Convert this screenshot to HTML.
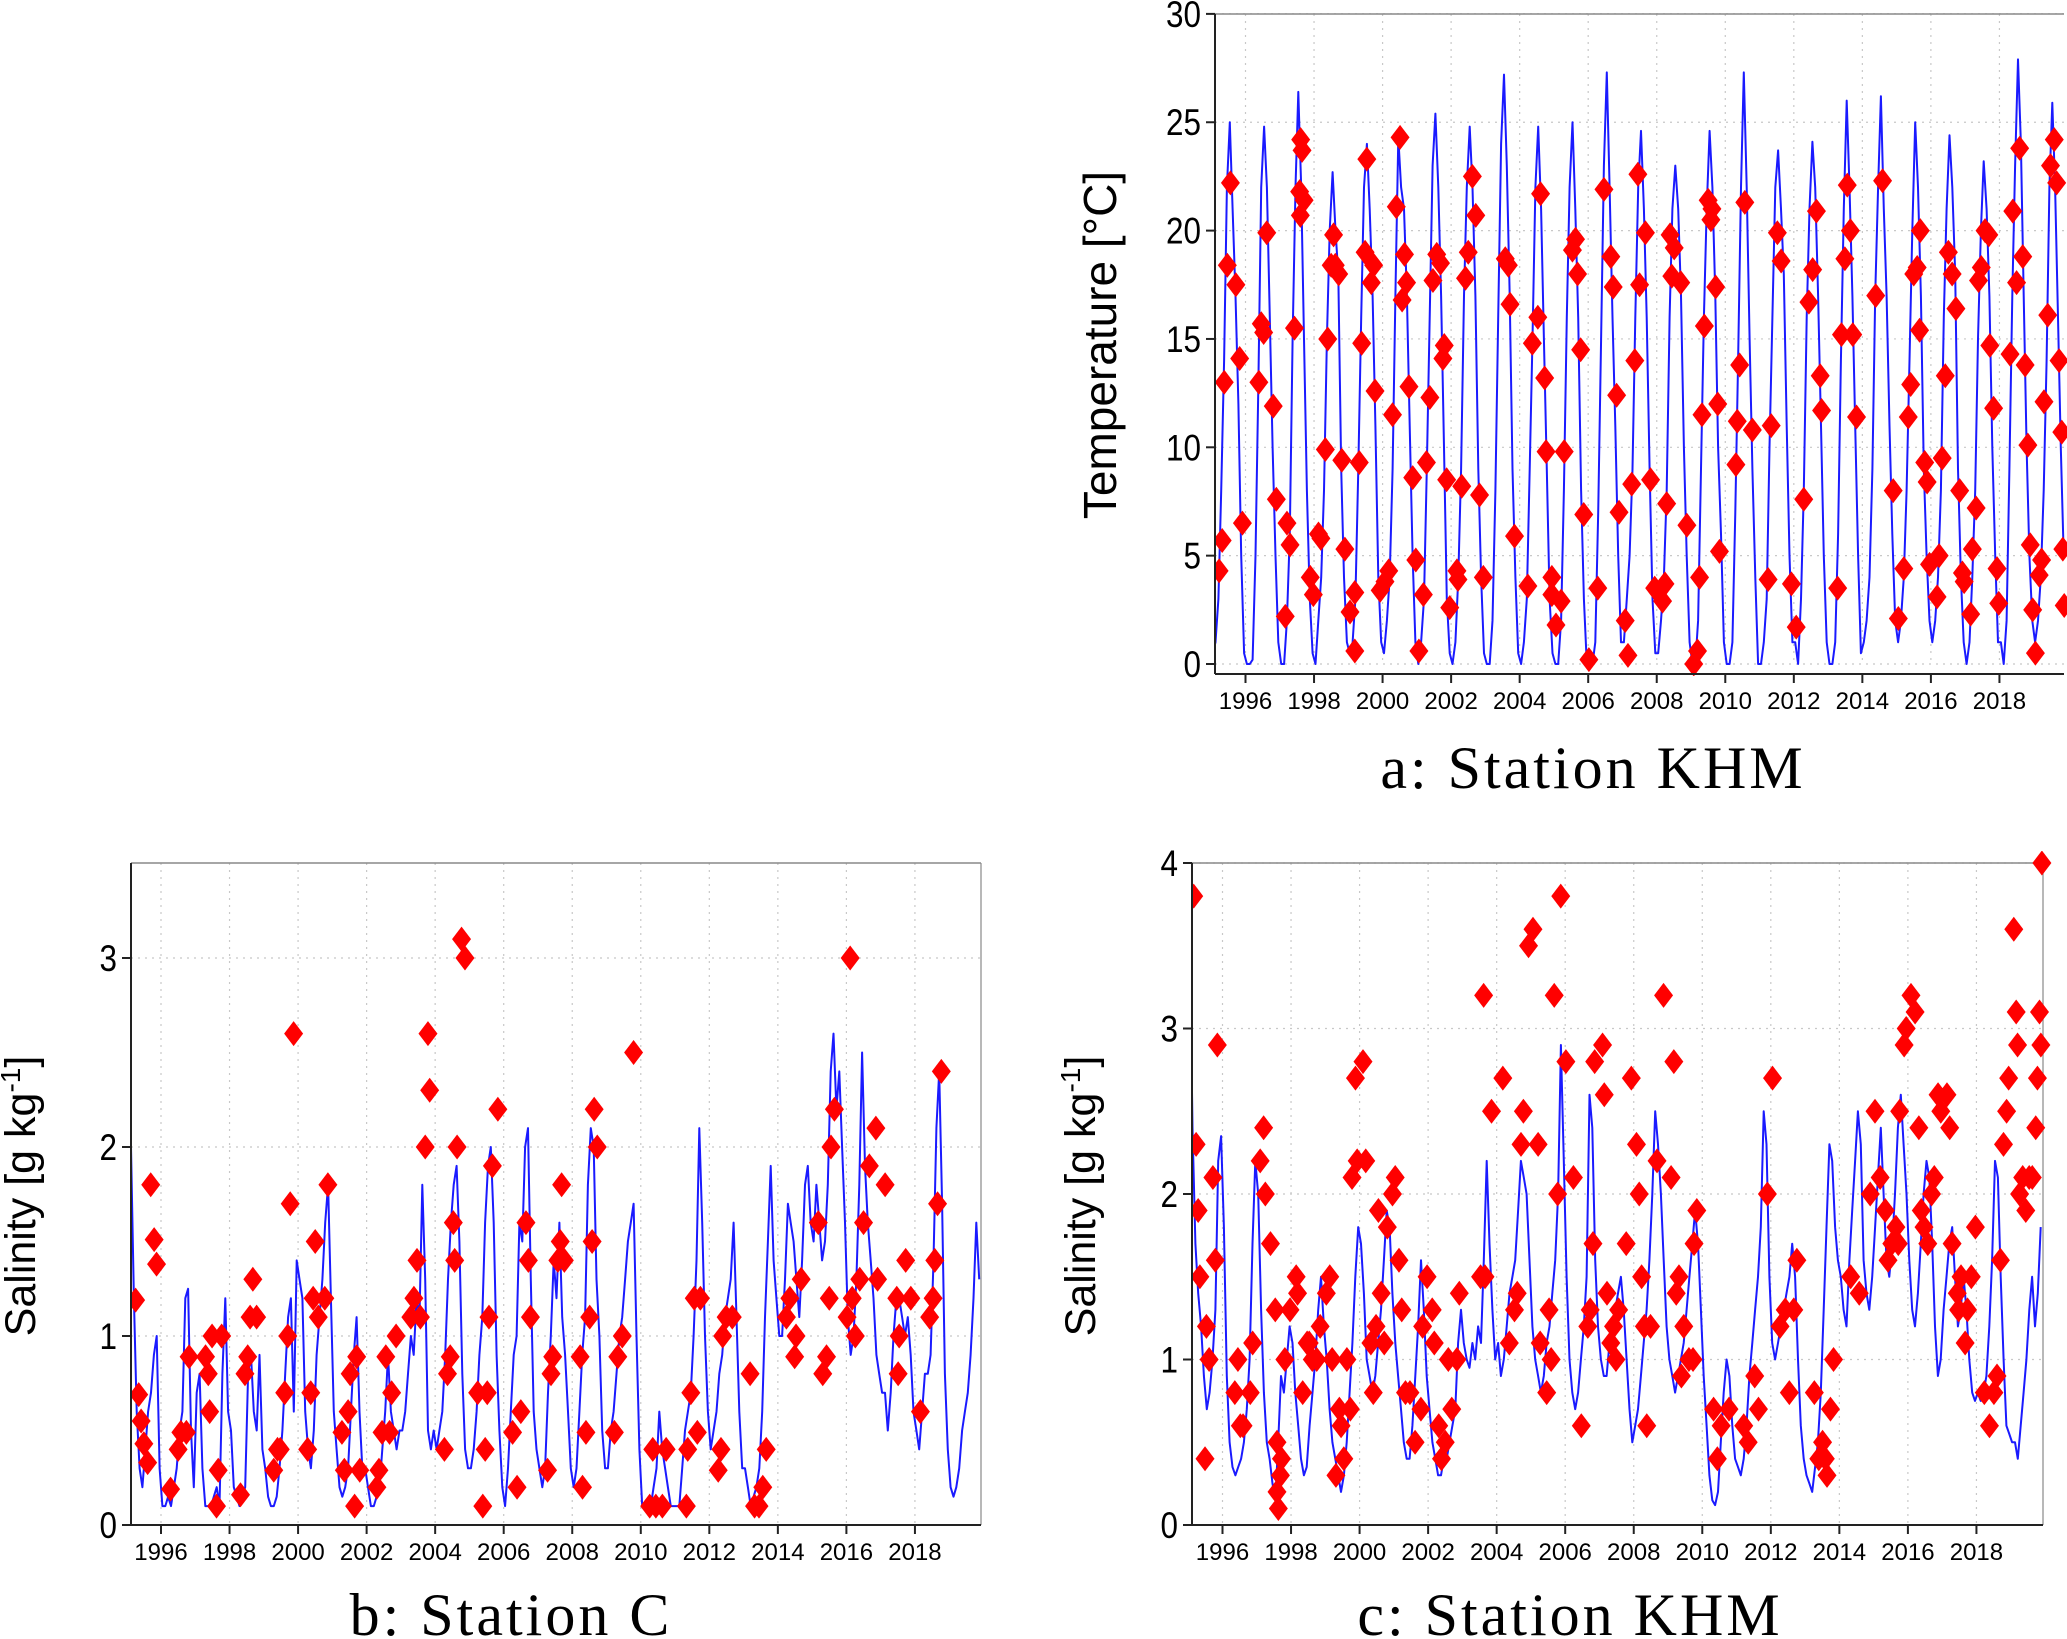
<!DOCTYPE html>
<html><head><meta charset="utf-8"><style>
html,body{margin:0;padding:0;background:#fff;}
svg{display:block;}
text{font-family:"Liberation Sans",sans-serif;fill:#000;}
</style></head><body>
<svg id="fig" width="2067" height="1639" viewBox="0 0 2067 1639" xmlns="http://www.w3.org/2000/svg"></svg>
<script>
// ===== Panel a: Temperature at Station KHM (monthly from 1995) =====
const tempLine = [
0.5,1,3,8,14,22,25,21,17,12,5,0.5,
0,0,0.2,5,13,22,24.8,22,16,10,5,1,
0,0,2,6,15,22,26.4,22,15,8,3,0.5,
0,2,4,8,15,20,22.7,20,18,9,4,1,
0.5,1,3,9,16,22,24,21,17,11,4,1,
0.5,2,4,9,17,24.3,22,21,17,11,5,1,
0,1,3,9,16,23,25.4,22,17,10,3,0.5,
0,1,4,9,17,22,24.8,22,17,9,4,0.5,
0,0,2,8,16,24,27.2,23,17,9,4,0.5,
0,1,3,9,15,22,24.8,21,15,9,3,0.5,
0,0,2,8,16,22,25,21,16,8,3,0,
0,0,1,7,15,23,27.3,22,16,11,5,1,
1,3,5,9,16,22,24.6,21,16,9,3,0.5,
0.5,2,4,8,16,21,23,21,17,10,5,1,
0,0,2,9,16,21,24.6,22,17,10,6,1,
0,0,1,7,14,22,27.3,22,15,9,4,0,
0,1,3,10,16,22,23.7,21,18,11,5,1,
1,0,3,8,16,21,24.1,22,17,11,5,1,
0,0,1,6,14,21,26,22,17,11,5,0.5,
1,2,4,9,17,22,26.2,21,17,11,6,2,
1,2,4,8,14,20,25,22,17,9,5,2,
1,2,4,8,16,21,24.4,22,18,9,4,1,
0,1,4,8,15,20,23.2,21,17,10,5,1,
1,0,2,9,17,23,27.9,24,17,10,5,2,
1,2,4,8,14,22,25.9,22,16,10,5
];
const tempObsT = [1995.23,1995.32,1995.38,1995.47,1995.56,1995.72,1995.83,1995.91,1996.39,1996.46,1996.53,1996.62,1996.81,1996.90,1997.16,1997.21,1997.30,1997.43,1997.58,1997.61,1997.65,1997.60,1997.71,1997.89,1997.98,1998.13,1998.20,1998.33,1998.40,1998.50,1998.57,1998.62,1998.72,1998.81,1998.90,1999.05,1999.19,1999.19,1999.32,1999.39,1999.49,1999.54,1999.67,1999.74,1999.78,1999.93,2000.07,2000.18,2000.29,2000.40,2000.51,2000.57,2000.64,2000.70,2000.77,2000.88,2000.97,2001.06,2001.19,2001.28,2001.38,2001.47,2001.58,2001.69,2001.76,2001.80,2001.87,2001.96,2002.17,2002.20,2002.31,2002.42,2002.50,2002.62,2002.72,2002.83,2002.94,2003.58,2003.67,2003.72,2003.85,2004.24,2004.37,2004.53,2004.61,2004.73,2004.77,2004.94,2004.94,2005.06,2005.21,2005.30,2005.54,2005.63,2005.69,2005.78,2005.87,2006.02,2006.28,2006.46,2006.66,2006.73,2006.83,2006.90,2007.08,2007.16,2007.27,2007.36,2007.45,2007.50,2007.67,2007.82,2007.94,2008.17,2008.24,2008.29,2008.39,2008.44,2008.51,2008.70,2008.88,2009.08,2009.19,2009.25,2009.32,2009.39,2009.50,2009.58,2009.61,2009.72,2009.78,2009.83,2010.31,2010.35,2010.42,2010.57,2010.79,2011.25,2011.34,2011.52,2011.63,2011.93,2012.07,2012.29,2012.44,2012.55,2012.66,2012.77,2012.81,2013.28,2013.39,2013.49,2013.56,2013.65,2013.72,2013.83,2014.39,2014.59,2014.90,2015.05,2015.21,2015.34,2015.41,2015.50,2015.60,2015.67,2015.69,2015.82,2015.89,2015.96,2016.18,2016.24,2016.33,2016.42,2016.51,2016.62,2016.73,2016.84,2016.92,2016.97,2017.16,2017.21,2017.32,2017.39,2017.47,2017.58,2017.69,2017.72,2017.83,2017.93,2017.98,2018.31,2018.39,2018.50,2018.59,2018.68,2018.75,2018.83,2018.90,2018.97,2019.05,2019.16,2019.23,2019.30,2019.41,2019.49,2019.60,2019.67,2019.74,2019.82,2019.85,2019.89];
const tempObsV = [4.3,5.7,13,18.4,22.2,17.5,14.1,6.5,13,15.7,15.3,19.9,11.9,7.6,2.2,6.5,5.5,15.5,21.8,24.2,23.7,20.7,21.4,4,3.2,6,5.8,9.9,15,18.4,19.8,18.4,18,9.4,5.3,2.4,0.6,3.3,9.3,14.8,19,23.3,17.6,18.4,12.6,3.4,3.8,4.3,11.5,21.1,24.3,16.8,18.9,17.6,12.8,8.6,4.8,0.6,3.2,9.3,12.3,17.7,18.9,18.5,14.1,14.7,8.5,2.6,4.3,3.9,8.2,17.8,19,22.5,20.7,7.8,4,18.7,18.4,16.6,5.9,3.6,14.8,16,21.7,13.2,9.8,4,3.2,1.8,2.9,9.8,19.1,19.6,18,14.5,6.9,0.2,3.5,21.9,18.8,17.4,12.4,7,2,0.4,8.3,14,22.6,17.5,19.9,8.5,3.5,2.9,3.7,7.4,19.8,17.9,19.2,17.6,6.4,0,0.6,4,11.5,15.6,21.4,20.5,21,17.4,12,5.2,9.2,11.2,13.8,21.3,10.8,3.9,11,19.9,18.6,3.7,1.7,7.6,16.7,18.2,20.9,13.3,11.7,3.5,15.2,18.7,22.1,20,15.2,11.4,17,22.3,8,2.1,4.4,11.4,12.9,18,18.3,15.4,20,9.3,8.4,4.6,3.1,5,9.5,13.3,19,18,16.4,8,4.2,3.8,2.3,5.3,7.2,17.7,18.3,20,19.8,14.7,11.8,4.4,2.8,14.3,20.9,17.6,23.8,18.8,13.8,10.1,5.5,2.5,0.5,4.1,4.8,12.1,16.1,23,24.2,22.2,14,10.7,5.3,2.7];
const tempTicks = [0,5,10,15,20,25,30];
const yearTicks = [1996,1998,2000,2002,2004,2006,2008,2010,2012,2014,2016,2018];

// ===== Panel b: Salinity at Station C =====
const salCLine = [
2.5,2.0,1.2,0.6,0.3,0.2,0.4,0.6,0.7,0.9,1.0,0.3,
0.1,0.1,0.15,0.1,0.2,0.3,0.5,0.6,1.2,1.25,0.5,0.2,
0.7,0.8,0.3,0.1,0.1,0.1,0.15,0.2,0.1,0.8,1.2,0.6,
0.5,0.2,0.15,0.1,0.15,0.2,0.8,0.9,0.6,0.5,0.9,0.4,
0.3,0.15,0.1,0.1,0.15,0.3,0.5,0.8,1.1,1.2,0.6,1.4,
1.3,1.2,0.6,0.4,0.3,0.5,0.9,1.1,1.3,1.6,1.8,1.2,
0.6,0.4,0.2,0.15,0.2,0.3,0.6,0.9,1.1,0.6,0.3,0.3,
0.2,0.1,0.1,0.15,0.2,0.4,0.6,0.9,0.6,0.5,0.4,0.5,
0.5,0.6,0.8,1.0,0.9,1.2,1.1,1.8,1.3,0.5,0.4,0.5,
0.4,0.5,0.6,0.9,1.3,1.6,1.8,1.9,1.5,0.8,0.4,0.3,
0.3,0.4,0.6,0.9,1.1,1.6,1.9,2.0,1.6,0.9,0.5,0.2,
0.1,0.3,0.6,0.9,1.0,1.6,1.5,2.0,2.1,1.3,0.6,0.4,
0.3,0.2,0.3,0.7,1.0,1.4,1.2,1.6,1.1,0.9,0.6,0.3,
0.2,0.3,0.6,0.9,1.1,1.8,2.1,2.0,1.3,1.0,0.5,0.3,
0.3,0.5,0.6,0.8,1.0,1.1,1.3,1.5,1.6,1.7,1.0,0.4,
0.1,0.08,0.1,0.1,0.2,0.3,0.6,0.4,0.3,0.2,0.1,0.1,
0.1,0.1,0.3,0.5,0.6,0.7,1.0,1.4,2.1,1.6,1.0,0.6,
0.4,0.5,0.6,0.8,0.9,1.1,1.2,1.3,1.6,1.1,0.6,0.3,
0.3,0.2,0.1,0.15,0.2,0.3,0.6,1.1,1.5,1.9,1.4,1.2,
1.0,1.0,1.3,1.7,1.6,1.5,1.3,1.1,1.4,1.8,1.9,1.6,
1.5,1.8,1.6,1.4,1.5,1.8,2.4,2.6,2.2,2.4,2.0,1.6,
1.1,0.9,1.0,1.3,1.8,2.5,1.9,1.6,1.4,1.2,0.9,0.8,
0.7,0.7,0.5,0.7,1.0,1.2,1.2,1.1,1.0,1.1,0.9,0.6,
0.5,0.4,0.6,0.8,0.8,0.9,1.4,2.1,2.4,1.7,0.8,0.4,
0.2,0.15,0.2,0.3,0.5,0.6,0.7,0.9,1.2,1.6,1.3
];
const salCObsT = [1995.26,1995.35,1995.42,1995.50,1995.61,1995.70,1995.80,1995.87,1996.28,1996.50,1996.58,1996.74,1996.82,1997.30,1997.38,1997.42,1997.49,1997.67,1997.62,1997.77,1998.32,1998.45,1998.53,1998.60,1998.68,1998.79,1999.29,1999.40,1999.48,1999.61,1999.70,1999.77,1999.87,2000.28,2000.37,2000.44,2000.50,2000.59,2000.78,2000.87,2001.28,2001.35,2001.46,2001.52,2001.65,2001.71,2001.80,2002.30,2002.36,2002.45,2002.56,2002.67,2002.73,2002.86,2003.29,2003.38,2003.47,2003.57,2003.71,2003.79,2003.84,2004.27,2004.36,2004.44,2004.53,2004.57,2004.64,2004.77,2004.87,2005.24,2005.39,2005.46,2005.52,2005.57,2005.67,2005.83,2006.26,2006.39,2006.50,2006.65,2006.72,2006.78,2007.28,2007.38,2007.43,2007.58,2007.65,2007.69,2007.77,2008.23,2008.30,2008.40,2008.51,2008.58,2008.64,2008.73,2009.23,2009.33,2009.46,2009.79,2010.26,2010.35,2010.44,2010.63,2010.74,2011.33,2011.37,2011.46,2011.56,2011.65,2011.74,2012.26,2012.34,2012.39,2012.49,2012.67,2013.19,2013.32,2013.45,2013.56,2013.66,2014.25,2014.35,2014.49,2014.53,2014.68,2015.18,2015.31,2015.42,2015.50,2015.55,2015.65,2016.02,2016.11,2016.17,2016.26,2016.39,2016.50,2016.67,2016.86,2016.91,2017.13,2017.47,2017.54,2017.51,2017.73,2017.88,2018.16,2018.43,2018.53,2018.58,2018.66,2018.77];
const salCObsV = [1.19,0.69,0.55,0.43,0.33,1.8,1.51,1.38,0.19,0.4,0.49,0.49,0.89,0.89,0.8,0.6,1.0,0.29,0.1,1.0,0.16,0.8,0.89,1.1,1.3,1.1,0.29,0.4,0.4,0.7,1.0,1.7,2.6,0.4,0.7,1.2,1.5,1.1,1.2,1.8,0.49,0.29,0.6,0.8,0.1,0.89,0.29,0.2,0.29,0.49,0.89,0.49,0.7,1.0,1.1,1.2,1.4,1.1,2.0,2.6,2.3,0.4,0.8,0.89,1.6,1.4,2.0,3.1,3.0,0.7,0.1,0.4,0.7,1.1,1.9,2.2,0.49,0.2,0.6,1.6,1.4,1.1,0.29,0.8,0.89,1.4,1.5,1.8,1.4,0.89,0.2,0.49,1.1,1.5,2.2,2.0,0.49,0.89,1.0,2.5,0.1,0.4,0.1,0.1,0.4,0.1,0.4,0.7,1.2,0.49,1.2,0.29,0.4,1.0,1.1,1.1,0.8,0.1,0.1,0.2,0.4,1.1,1.2,0.89,1.0,1.3,1.6,0.8,0.89,1.2,2.0,2.2,1.1,3.0,1.2,1.0,1.3,1.6,1.9,2.1,1.3,1.8,1.2,1.0,0.8,1.4,1.2,0.6,1.1,1.2,1.4,1.7,2.4];
const salCTicks = [0,1,2,3];

// ===== Panel c: Salinity at Station KHM =====
const salKLine = [
3.6,2.4,1.7,1.4,1.2,0.9,0.7,0.8,1.0,1.3,2.2,2.35,
1.8,0.9,0.5,0.35,0.3,0.35,0.4,0.5,0.7,1.0,1.7,2.2,
2.0,1.3,0.8,0.5,0.4,0.25,0.15,0.5,0.9,0.8,1.0,1.2,
1.1,0.8,0.6,0.4,0.3,0.35,0.6,0.8,1.0,1.3,1.5,1.2,
1.0,0.7,0.5,0.4,0.3,0.2,0.3,0.5,0.8,1.1,1.5,1.8,
1.7,1.4,1.0,0.9,0.8,0.9,1.1,1.3,1.6,1.9,1.8,1.4,
1.1,0.9,0.7,0.5,0.4,0.4,0.6,0.9,1.2,1.6,1.3,0.9,
0.7,0.5,0.4,0.3,0.3,0.4,0.4,0.5,0.6,0.7,1.1,1.3,
1.1,1.0,0.95,1.1,1.0,1.2,1.1,1.6,2.2,1.7,1.3,1.0,
1.1,0.9,1.0,1.2,1.4,1.5,1.6,1.9,2.2,2.1,2.0,1.6,
1.2,1.0,0.9,0.8,0.9,1.1,1.2,1.4,1.6,2.0,2.9,2.2,
1.5,1.0,0.8,0.7,0.8,1.0,1.2,1.5,2.6,2.4,1.6,1.2,
1.0,0.9,0.9,1.1,1.2,1.3,1.4,1.5,1.3,1.0,0.7,0.5,
0.6,0.7,0.9,1.1,1.3,1.6,2.0,2.5,2.3,2.0,1.6,1.2,
1.0,0.9,0.8,0.9,1.0,1.1,1.3,1.5,1.7,1.9,1.7,1.3,
0.9,0.6,0.3,0.15,0.12,0.2,0.5,0.8,1.0,0.9,0.6,0.4,
0.35,0.3,0.4,0.6,0.9,1.1,1.3,1.5,1.8,2.5,2.3,1.5,
1.1,1.0,1.1,1.2,1.3,1.4,1.5,1.7,1.5,1.0,0.6,0.4,
0.3,0.25,0.2,0.35,0.5,0.8,1.3,1.8,2.3,2.2,1.8,1.6,
1.5,1.3,1.2,1.6,1.9,2.2,2.5,2.3,1.6,1.4,1.3,1.5,
1.8,2.1,2.4,2.0,1.6,1.5,1.7,2.0,2.4,2.6,2.3,2.0,
1.6,1.3,1.2,1.4,1.7,2.0,2.2,2.1,1.7,1.2,0.9,1.0,
1.3,1.5,1.7,1.8,1.5,1.2,1.3,1.5,1.3,1.0,0.8,0.75,
0.8,0.75,0.8,0.9,1.2,1.6,2.2,2.1,1.5,1.0,0.6,0.55,
0.5,0.5,0.4,0.6,0.8,1.0,1.3,1.5,1.2,1.4,1.8
];
const salKObsT = [1995.16,1995.23,1995.29,1995.34,1995.49,1995.53,1995.61,1995.72,1995.79,1995.85,1996.36,1996.45,1996.52,1996.60,1996.81,1996.88,1997.10,1997.20,1997.25,1997.40,1997.54,1997.59,1997.59,1997.63,1997.69,1997.72,1997.82,1997.97,1998.15,1998.19,1998.34,1998.47,1998.53,1998.62,1998.75,1998.85,1999.03,1999.13,1999.20,1999.31,1999.41,1999.46,1999.54,1999.63,1999.73,1999.78,1999.88,1999.93,2000.10,2000.18,2000.33,2000.40,2000.48,2000.55,2000.63,2000.72,2000.81,2000.96,2001.04,2001.15,2001.23,2001.34,2001.47,2001.62,2001.79,2001.84,2001.97,2002.12,2002.18,2002.31,2002.39,2002.50,2002.59,2002.69,2002.84,2002.91,2003.53,2003.62,2003.66,2003.85,2004.18,2004.37,2004.52,2004.60,2004.71,2004.78,2004.93,2005.06,2005.21,2005.27,2005.46,2005.53,2005.59,2005.68,2005.78,2005.87,2006.02,2006.24,2006.47,2006.66,2006.73,2006.81,2006.86,2007.09,2007.14,2007.22,2007.33,2007.41,2007.48,2007.56,2007.78,2007.93,2008.08,2008.16,2008.23,2008.31,2008.38,2008.49,2008.68,2008.87,2009.09,2009.17,2009.24,2009.32,2009.39,2009.46,2009.61,2009.73,2009.76,2009.84,2010.33,2010.44,2010.55,2010.78,2011.21,2011.34,2011.53,2011.64,2011.90,2012.05,2012.27,2012.42,2012.54,2012.67,2012.76,2013.27,2013.40,2013.51,2013.59,2013.64,2013.74,2013.83,2014.33,2014.58,2014.90,2015.04,2015.19,2015.34,2015.42,2015.53,2015.65,2015.72,2015.76,2015.89,2015.95,2016.09,2016.21,2016.32,2016.39,2016.47,2016.58,2016.69,2016.77,2016.88,2016.96,2017.14,2017.22,2017.29,2017.44,2017.48,2017.55,2017.67,2017.74,2017.85,2017.97,2018.23,2018.38,2018.51,2018.60,2018.70,2018.79,2018.88,2018.94,2019.09,2019.16,2019.20,2019.26,2019.35,2019.44,2019.54,2019.63,2019.73,2019.78,2019.84,2019.88,2019.91];
const salKObsV = [3.8,2.3,1.9,1.5,0.4,1.2,1.0,2.1,1.6,2.9,0.8,1.0,0.6,0.6,0.8,1.1,2.2,2.4,2.0,1.7,1.3,0.5,0.2,0.1,0.3,0.4,1.0,1.3,1.5,1.4,0.8,1.1,1.1,1.0,1.0,1.2,1.4,1.5,1.0,0.3,0.7,0.6,0.4,1.0,0.7,2.1,2.7,2.2,2.8,2.2,1.1,0.8,1.2,1.9,1.4,1.1,1.8,2.0,2.1,1.6,1.3,0.8,0.8,0.5,0.7,1.2,1.5,1.3,1.1,0.6,0.4,0.5,1.0,0.7,1.0,1.4,1.5,3.2,1.5,2.5,2.7,1.1,1.3,1.4,2.3,2.5,3.5,3.6,2.3,1.1,0.8,1.3,1.0,3.2,2.0,3.8,2.8,2.1,0.6,1.2,1.3,1.7,2.8,2.9,2.6,1.4,1.1,1.2,1.0,1.3,1.7,2.7,2.3,2.0,1.5,1.2,0.6,1.2,2.2,3.2,2.1,2.8,1.4,1.5,0.9,1.2,1.0,1.0,1.7,1.9,0.7,0.4,0.6,0.7,0.6,0.5,0.9,0.7,2.0,2.7,1.2,1.3,0.8,1.3,1.6,0.8,0.4,0.5,0.4,0.3,0.7,1.0,1.5,1.4,2.0,2.5,2.1,1.9,1.6,1.7,1.8,1.7,2.5,2.9,3.0,3.2,3.1,2.4,1.9,1.8,1.7,2.0,2.1,2.6,2.5,2.6,2.4,1.7,1.4,1.3,1.5,1.1,1.3,1.5,1.8,0.8,0.6,0.8,0.9,1.6,2.3,2.5,2.7,3.6,3.1,2.9,2.0,2.1,1.9,2.1,2.1,2.4,2.7,3.1,2.9,4.0];
const salKTicks = [0,1,2,3,4];

const NS = 'http://www.w3.org/2000/svg';
const svg = document.getElementById('fig');
function mk(tag, attrs, parent){ const e=document.createElementNS(NS,tag); for(const k in attrs) e.setAttribute(k,attrs[k]); (parent||svg).appendChild(e); return e; }

function panel(cfg){
  const g = mk('g',{});
  
  
  const X = yr => cfg.x1996 + (yr-1996)*34.27;
  const Y = v => cfg.y0 - v*cfg.ppu;
  const clipId = cfg.name+'-clip';
  const cp = mk('clipPath',{id:clipId},g);
  mk('rect',{x:cfg.left,y:cfg.top-12,width:cfg.right-cfg.left+10,height:cfg.axisY-cfg.top+14},cp);
  const grid = mk('g',{stroke:'#c8c8c8','stroke-width':1.2,'stroke-dasharray':'2,5'},g);
  
  
  cfg.yt.forEach(v=>{ mk('line',{x1:cfg.left,x2:cfg.right,y1:Y(v),y2:Y(v)},grid); });
  yearTicks.forEach(yr=>{ mk('line',{x1:X(yr),x2:X(yr),y1:cfg.top,y2:cfg.y0},grid); });
  mk('line',{x1:cfg.left,x2:cfg.right,y1:cfg.top,y2:cfg.top,stroke:'#888','stroke-width':1.5},g);
  if(cfg.rightBorder) mk('line',{x1:cfg.right,x2:cfg.right,y1:cfg.top,y2:cfg.axisY,stroke:'#888','stroke-width':1.2},g);
  const data = mk('g',{'clip-path':'url(#'+clipId+')'},g);
  let d='';
  cfg.line.forEach((v,i)=>{ const yr=1995+(i+0.5)/12; d+=(i?'L':'M')+X(yr).toFixed(1)+','+Y(v).toFixed(1); });
  const p = mk('path',{d:d,fill:'none',stroke:'#1a1aff','stroke-width':2,'stroke-linejoin':'round'},data);
  
  
  cfg.obsT.forEach((t,i)=>{
    const cx=X(t), cy=Y(cfg.obsV[i]);
    const dm = mk('polygon',{points:`${cx},${cy-12.5} ${cx+9.5},${cy} ${cx},${cy+12.5} ${cx-9.5},${cy}`,fill:'#ff0000'},data);
    
    
  });
  mk('line',{x1:cfg.left,x2:cfg.left,y1:cfg.top,y2:cfg.axisY,stroke:'#222','stroke-width':2},g);
  mk('line',{x1:cfg.left,x2:cfg.right,y1:cfg.axisY,y2:cfg.axisY,stroke:'#222','stroke-width':2},g);
  cfg.yt.forEach(v=>{
    mk('line',{x1:cfg.left-9,x2:cfg.left,y1:Y(v),y2:Y(v),stroke:'#222','stroke-width':2},g);
    const t = mk('text',{x:cfg.left-14,y:Y(v)+13,'text-anchor':'end','font-size':37,transform:`translate(${cfg.left-14},0) scale(0.85,1) translate(${-(cfg.left-14)},0)`},g);
    t.textContent = v;
    
    
  });
  yearTicks.forEach(yr=>{
    mk('line',{x1:X(yr),x2:X(yr),y1:cfg.axisY,y2:cfg.axisY+9,stroke:'#222','stroke-width':2},g);
    const t = mk('text',{x:X(yr),y:cfg.axisY+35,'text-anchor':'middle','font-size':24},g);
    t.textContent = yr;
    
    
  });
  const yt = mk('text',{x:cfg.titleX,y:cfg.titleY,'text-anchor':'middle','font-size':cfg.titleSize,transform:`rotate(-90 ${cfg.titleX} ${cfg.titleY})`},g);
  yt.innerHTML = cfg.title;
  
  
  const cap = mk('text',{x:cfg.capX,y:cfg.capY,'text-anchor':'middle','font-size':60,'letter-spacing':3,style:'font-family:"Liberation Serif","DejaVu Serif",serif'},g);
  cap.textContent = cfg.caption;
  
  
}
const salTitle = 'Salinity [g kg<tspan dy="-15" font-size="28">-1</tspan><tspan dy="15">]</tspan>';
panel({name:'panel-a-temperature',left:1215,right:2064,top:14,y0:664,axisY:674,ppu:21.67,x1996:1245.5,
  yt:tempTicks,line:tempLine,obsT:tempObsT,obsV:tempObsV,title:'Temperature [°C]',titleSize:46,titleX:1116,titleY:345,
  caption:'a: Station KHM',capX:1593,capY:788,rightBorder:false});
panel({name:'panel-b-salinity-c',left:131,right:981,top:863,y0:1525,axisY:1525,ppu:189,x1996:161,
  yt:salCTicks,line:salCLine,obsT:salCObsT,obsV:salCObsV,title:salTitle,titleSize:43,titleX:35,titleY:1196,
  caption:'b: Station C',capX:511,capY:1635,rightBorder:true});
panel({name:'panel-c-salinity-khm',left:1192,right:2043,top:863,y0:1525,axisY:1525,ppu:165.5,x1996:1222.5,
  yt:salKTicks,line:salKLine,obsT:salKObsT,obsV:salKObsV,title:salTitle,titleSize:43,titleX:1095,titleY:1196,
  caption:'c: Station KHM',capX:1570,capY:1635,rightBorder:true});
</script>
</body></html>
